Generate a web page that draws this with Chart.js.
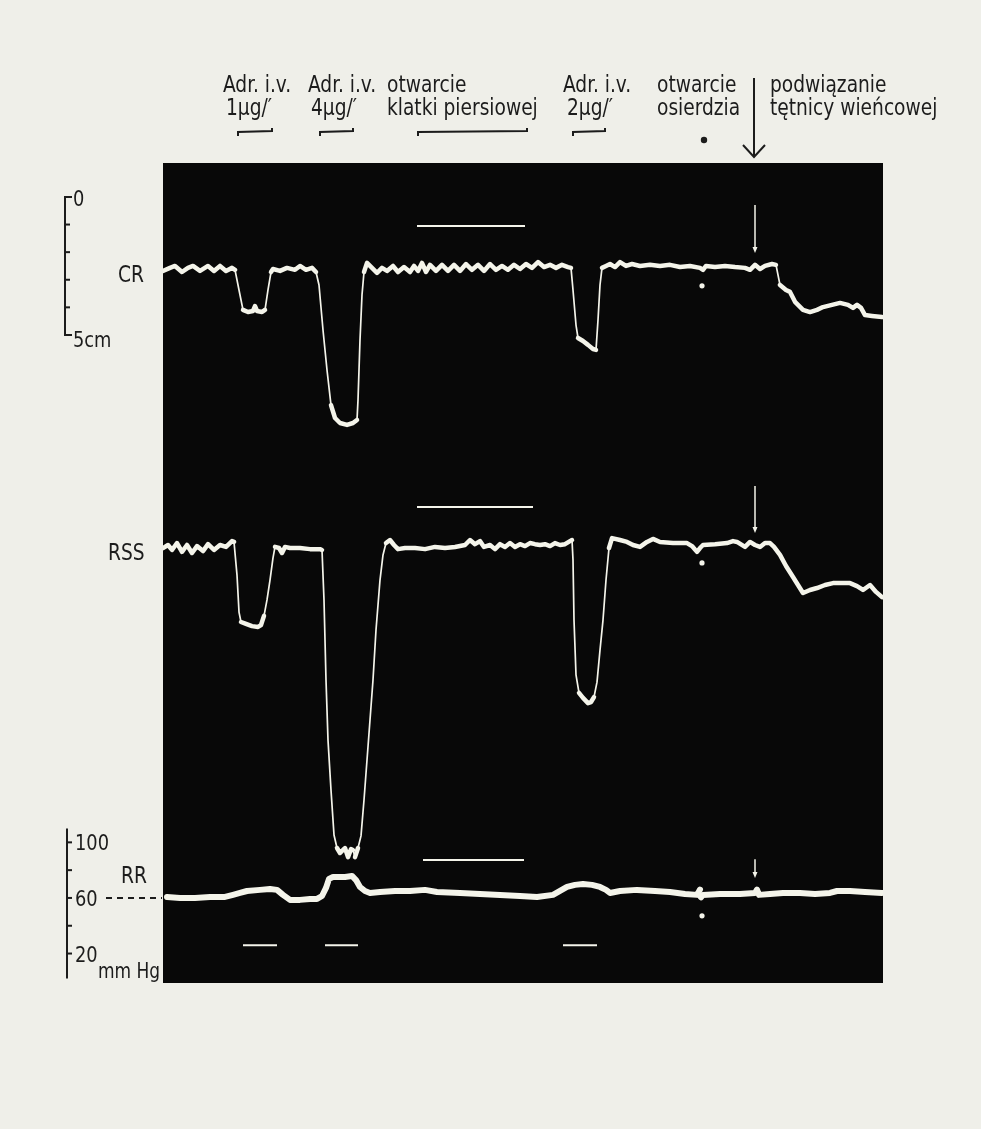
<!DOCTYPE html>
<html lang="pl">
<head>
<meta charset="UTF-8">
<title>CR, RSS, RR – adrenalina i podwiązanie tętnicy wieńcowej</title>
<script src="https://cdn.jsdelivr.net/npm/chart.js"></script>
<style>
  html, body { margin: 0; padding: 0; background: #efefe9; }
  #wrap { position: relative; width: 981px; height: 1129px; }
</style>
</head>
<body>
<div id="wrap"><canvas id="zapis"></canvas></div>
<script>
// czas zapisu w sekundach (0 = lewy brzeg zapisu)
// CR - wychylenie w cm (skala 0..5 cm po lewej)
const crTime = [0, 3.5, 6, 9.5, 12.5, 15, 18.5, 22.5, 25.5, 28.5, 31.5, 34.5, 36,
  38, 40, 42.5, 45, 46, 47, 49.5, 51, 52.5, 54, 55, 58.5, 62, 66, 68.5, 71.5, 74.5, 76.5,
  78, 80, 82, 84, 86, 88.5, 92, 95, 97, 97.5, 98.5, 99.5, 100.5, 102,
  104.5, 107, 109.5, 112, 115, 117.5, 120.5, 123.5, 125.5, 127.5,
  129.5, 131.5, 133.5, 136.5, 139.5, 142.5, 145.5, 148.5, 151.5, 154.5,
  157.5, 160.5, 163.5, 166.5, 169.5, 172.5, 175.5, 178.5, 181.5, 184.5,
  187.5, 190.5, 193.5, 196.5, 199.5, 202.5, 204,
  205, 206.5, 207.5, 210, 212.5, 215, 216.5, 217.5, 218.5, 219.5,
  221.5, 223.5, 226, 228.5, 231.5, 234.5, 238.5, 243.5, 248.5, 253.5,
  258.5, 263.5, 268.5, 270, 271.5, 276, 281, 286, 291, 293.5,
  296, 298.5, 301, 304.5, 306.5, 308.5, 311.5, 313.5, 316, 320,
  323.5, 327, 330, 334.5, 338.5, 342.5, 345, 347, 349, 351,
  354.5, 359.5];
const crValue = [2.68, 2.57, 2.50, 2.72, 2.57, 2.50, 2.68, 2.50, 2.68, 2.50, 2.68, 2.57, 2.64,
  3.37, 4.09, 4.17, 4.13, 3.95, 4.13, 4.17, 4.09, 3.37, 2.72, 2.61, 2.68, 2.57, 2.64, 2.50, 2.64, 2.57, 2.72,
  3.19, 4.82, 6.27, 7.54, 8.01, 8.19, 8.26, 8.19, 8.08, 7.36, 5.18, 3.55, 2.72, 2.39,
  2.57, 2.75, 2.57, 2.68, 2.50, 2.72, 2.54, 2.72, 2.50, 2.68,
  2.39, 2.72, 2.46, 2.68, 2.46, 2.68, 2.46, 2.68, 2.43, 2.64,
  2.46, 2.68, 2.43, 2.64, 2.50, 2.64, 2.46, 2.61, 2.43, 2.57,
  2.36, 2.54, 2.46, 2.57, 2.46, 2.54, 2.57,
  3.37, 4.64, 5.11, 5.22, 5.36, 5.51, 5.54, 4.46, 3.19, 2.57,
  2.50, 2.43, 2.54, 2.36, 2.50, 2.43, 2.50, 2.46, 2.50, 2.46,
  2.54, 2.50, 2.57, 2.64, 2.50, 2.54, 2.50, 2.54, 2.57, 2.64,
  2.46, 2.61, 2.50, 2.43, 2.46, 3.19, 3.37, 3.44, 3.80, 4.09,
  4.17, 4.09, 3.99, 3.91, 3.84, 3.91, 4.02, 3.91, 4.02, 4.28,
  4.31, 4.35];

// RSS - wychylenie w cm od linii podstawowej (w dół dodatnie)
const rssTime = [0, 2.5, 4.5, 7, 9.5, 12, 14.5, 17, 20, 22.5, 25.5, 28.5, 31.5, 34.5, 35.5,
  37, 38, 39, 41.5, 44.5, 47.5, 49, 50.5, 52, 53.5, 55, 56, 58, 59.5, 61, 63.5, 68.5, 73.5, 78.5, 79.5,
  80.5, 81.5, 82.5, 84, 85.5, 87, 88.5, 90, 91, 92.5,
  94, 95, 96, 97.5, 99, 100.5, 102, 103.5, 105, 106.5,
  108.5, 110, 111.5, 113.5, 115.5, 117.5, 121, 126, 131, 136,
  141, 146, 151, 153.5, 156, 158.5, 160.5, 163.5, 166, 168.5,
  171, 173.5, 176, 178.5, 181, 183.5, 186, 188.5, 191, 193.5,
  196, 198.5, 201, 203.5, 204.5,
  205, 205.5, 206.5, 208, 210, 212.5, 214, 215.5, 217, 218.5,
  220, 221.5, 223, 224.5, 228.5, 232, 235, 238.5, 242, 245,
  248.5, 255, 262, 264.5, 267, 268.5, 270, 276, 282, 285,
  287, 291, 293.5, 296, 298.5, 301, 303.5, 305.5, 308.5, 311.5,
  315, 317.5, 320, 323.5, 327, 331, 335, 339, 343.5, 347,
  350, 353.5, 356.5, 359.5];
const rssValue = [0, -0.11, 0.07, -0.18, 0.14, -0.11, 0.18, -0.07, 0.11, -0.14, 0.07, -0.11, -0.04, -0.25, -0.22,
  0.98, 2.32, 2.68, 2.75, 2.83, 2.86, 2.79, 2.46, 1.88, 1.16, 0.36, -0.04, 0, 0.18, -0.04, 0, 0, 0.04, 0.04, 0.07,
  1.88, 4.78, 6.96, 8.77, 10.40, 10.87, 11.05, 10.94, 10.87, 11.20,
  10.91, 10.94, 11.20, 10.87, 10.43, 9.13, 7.68, 6.23, 4.78, 2.97,
  1.16, 0.25, -0.18, -0.29, -0.11, 0.04, 0, 0, 0.04, -0.04,
  0, -0.04, -0.11, -0.29, -0.14, -0.25, -0.04, -0.11, 0.04, -0.14,
  -0.04, -0.18, -0.04, -0.14, -0.07, -0.18, -0.14, -0.11, -0.14, -0.07,
  -0.18, -0.11, -0.14, -0.25, -0.29,
  0.43, 2.61, 4.60, 5.25, 5.43, 5.62, 5.58, 5.40, 4.86, 3.70,
  2.61, 1.16, 0, -0.36, -0.29, -0.22, -0.11, -0.04, -0.22, -0.33,
  -0.22, -0.18, -0.18, -0.07, 0.14, 0, -0.11, -0.14, -0.18, -0.25,
  -0.22, -0.04, -0.22, -0.11, -0.04, -0.18, -0.18, -0.04, 0.25, 0.65,
  1.05, 1.34, 1.63, 1.52, 1.45, 1.34, 1.27, 1.27, 1.27, 1.38,
  1.52, 1.34, 1.59, 1.78];

// RR - ciśnienie tętnicze w mm Hg
const rrTime = [2, 8.5, 16, 23.5, 31, 35, 38.5, 42, 48.5, 53.5,
  57, 60, 63.5, 68.5, 73.5, 77, 79.5, 81.5, 83, 85,
  91, 94.5, 96.5, 98.5, 101, 103.5, 108.5, 116, 123.5, 131,
  137, 148.5, 158.5, 168.5, 178.5, 187, 195, 198.5, 202, 206,
  210, 214.5, 218.5, 221.5, 223.5, 226, 228.5, 237, 246, 253.5,
  261, 267, 268.5, 269, 270, 278.5, 288.5, 296, 297, 298,
  303.5, 310, 318.5, 326, 333.5, 337, 343.5, 351, 359.5];
const rrValue = [60.7, 60, 60, 60.7, 60.7, 62.2, 63.6, 65.0, 65.8, 66.5,
  65.8, 62.2, 58.6, 58.6, 59.3, 59.3, 61.4, 67.2, 73.7, 75.1,
  75.1, 75.8, 72.9, 67.9, 65.0, 63.6, 64.3, 65.0, 65.0, 65.8,
  64.3, 63.6, 62.9, 62.2, 61.4, 60.7, 62.2, 65.0, 67.9, 69.4,
  70.1, 69.4, 67.9, 65.8, 63.6, 64.3, 65.0, 65.8, 65.0, 64.3,
  62.9, 62.2, 66.0, 60.5, 62.2, 62.9, 62.9, 63.6, 66.0, 62.2,
  62.9, 63.6, 63.6, 62.9, 63.6, 65.0, 65.0, 64.3, 63.6];

// znaczniki zdarzeń
const doseStart = [37.5, 78.5, 205];          // Adr. i.v. 1, 4, 2 µg/' (klamry u góry)
const doseEnd = [54.5, 95, 221];
const rrDoseStart = [40, 81, 200];            // te same wlewy zaznaczone pod RR
const rrDoseEnd = [57, 97.5, 217];
const rrDoseLevel = 26;                       // mm Hg
const chestStart = 127.5, chestEnd = 182;     // otwarcie klatki piersiowej
const chestCR = [127, 181], chestCRLevel = 1.05;
const chestRSS = [127, 185], chestRSSLevel = -1.49;
const chestRR = [130, 180.5], chestRRLevel = 87.3;
const pericardTime = 269.5;                   // otwarcie osierdzia
const pericardDots = { yCR: 3.22, yRSS: 0.54, yRR: 47.1 };
const ligationTime = 296;                     // podwiązanie tętnicy wieńcowej
const ligationArrows = [['yCR', 0.29, 2.03], ['yRSS', -2.25, -0.54], ['yRR', 87.8, 74.4]];

const crTicks = [0, 1, 2, 3, 4, 5];
const rrTicks = [20, 40, 60, 80, 100];

const PAPER = '#efefe9';
const PANEL = '#080808';
const TRACE = '#f4f4ea';
const INK = '#1c1c1c';
const FONT = '"DejaVu Sans Condensed", "DejaVu Sans", sans-serif';
const SQUEEZE = 0.9;   // krój DIN z oryginału jest węższy

function steep(c) {
  const dx = Math.abs(c.p1.x - c.p0.x), dy = Math.abs(c.p1.y - c.p0.y);
  return dy > 3.5 * dx;
}

function trace(label, t, v, axis, thick) {
  return {
    label, yAxisID: axis,
    data: t.map((x, i) => ({ x, y: v[i] })),
    borderColor: TRACE, borderWidth: thick,
    borderCapStyle: 'round', borderJoinStyle: 'round',
    pointRadius: 0, tension: 0,
    segment: { borderWidth: c => steep(c) ? 1.7 : thick }
  };
}

function bar(label, from, to, level, axis) {
  return {
    label, yAxisID: axis,
    data: [{ x: from, y: level }, { x: to, y: level }],
    borderColor: TRACE, borderWidth: 2, pointRadius: 0
  };
}

const rrDoseData = [];
rrDoseStart.forEach((s, i) => {
  rrDoseData.push({ x: s, y: rrDoseLevel }, { x: rrDoseEnd[i], y: rrDoseLevel }, { x: rrDoseEnd[i] + 1, y: null });
});

const dots = Object.keys(pericardDots).map(axis => ({
  label: 'osierdzie ' + axis, yAxisID: axis, type: 'scatter',
  data: [{ x: pericardTime, y: pericardDots[axis] }],
  pointRadius: 2.6, pointBackgroundColor: TRACE, pointBorderWidth: 0
}));

function label(ctx, s, x, y, size) {
  ctx.save();
  ctx.font = size + 'px ' + FONT;
  ctx.translate(x, y);
  ctx.scale(SQUEEZE, 1);
  ctx.fillText(s, 0, 0);
  ctx.restore();
}

const drawing = {
  id: 'drawing',
  beforeDraw(chart) {
    const { ctx, chartArea: a } = chart;
    ctx.save();
    ctx.fillStyle = PAPER;
    ctx.fillRect(0, 0, chart.width, chart.height);
    ctx.fillStyle = PANEL;
    ctx.fillRect(a.left, a.top, a.right - a.left, a.bottom - a.top);
    ctx.restore();
  },
  afterDatasetsDraw(chart) {
    const { ctx, scales } = chart;
    const x = scales.x, cr = scales.yCR, rr = scales.yRR;
    ctx.save();

    // strzałki podwiązania w zapisie
    ctx.strokeStyle = TRACE; ctx.fillStyle = TRACE; ctx.lineWidth = 1.5;
    ligationArrows.forEach(([axis, from, to]) => {
      const px = x.getPixelForValue(ligationTime);
      const y0 = scales[axis].getPixelForValue(from), y1 = scales[axis].getPixelForValue(to);
      ctx.beginPath(); ctx.moveTo(px, y0); ctx.lineTo(px, y1 - 4); ctx.stroke();
      ctx.beginPath(); ctx.moveTo(px - 2.5, y1 - 6); ctx.lineTo(px + 2.5, y1 - 6); ctx.lineTo(px, y1); ctx.closePath(); ctx.fill();
    });

    ctx.strokeStyle = INK; ctx.fillStyle = INK; ctx.lineWidth = 2;
    ctx.lineCap = 'butt';

    // klamry wlewów u góry
    const bracket = (s, e) => {
      const xs = x.getPixelForValue(s), xe = x.getPixelForValue(e);
      ctx.beginPath();
      ctx.moveTo(xs, 136); ctx.lineTo(xs, 132); ctx.lineTo(xe, 131); ctx.lineTo(xe, 128);
      ctx.stroke();
    };
    doseStart.forEach((s, i) => bracket(s, doseEnd[i]));
    bracket(chestStart, chestEnd);

    // kropka i strzałka nad zapisem
    ctx.beginPath(); ctx.arc(x.getPixelForValue(pericardTime + 1), 140, 3.2, 0, Math.PI * 2); ctx.fill();
    const ax = x.getPixelForValue(ligationTime - 0.5);
    ctx.beginPath(); ctx.moveTo(ax, 78); ctx.lineTo(ax, 157); ctx.stroke();
    ctx.beginPath(); ctx.moveTo(ax - 11, 145); ctx.lineTo(ax, 157); ctx.lineTo(ax + 11, 145); ctx.stroke();

    // skala CR (cm)
    const cx = 65, c0 = cr.getPixelForValue(0), c5 = cr.getPixelForValue(5);
    ctx.beginPath(); ctx.moveTo(cx + 7, c0); ctx.lineTo(cx, c0); ctx.lineTo(cx, c5); ctx.lineTo(cx + 7, c5); ctx.stroke();
    crTicks.slice(1, -1).forEach(v => {
      const y = cr.getPixelForValue(v);
      ctx.beginPath(); ctx.moveTo(cx, y); ctx.lineTo(cx + 5, y); ctx.stroke();
    });

    // skala RR (mm Hg)
    const rx = 67;
    ctx.beginPath(); ctx.moveTo(rx, rr.getPixelForValue(110)); ctx.lineTo(rx, rr.getPixelForValue(2)); ctx.stroke();
    rrTicks.forEach(v => {
      const y = rr.getPixelForValue(v);
      ctx.beginPath(); ctx.moveTo(rx, y); ctx.lineTo(rx + 5, y); ctx.stroke();
    });
    const y60 = rr.getPixelForValue(60);
    ctx.setLineDash([6, 5]);
    ctx.beginPath(); ctx.moveTo(106, y60); ctx.lineTo(162, y60); ctx.stroke();
    ctx.setLineDash([]);

    // napisy: tekst, x, linia bazowa
    ctx.textBaseline = 'alphabetic';
    const texts = [
      ['Adr. i.v.', 223, 92], ['1µg/′', 226, 115],
      ['Adr. i.v.', 308, 92], ['4µg/′', 311, 115],
      ['otwarcie', 387, 92], ['klatki piersiowej', 387, 115],
      ['Adr. i.v.', 563, 92], ['2µg/′', 567, 115],
      ['otwarcie', 657, 92], ['osierdzia', 657, 115],
      ['podwiązanie', 770, 92], ['tętnicy wieńcowej', 770, 115],
      ['CR', 118, 282], ['RSS', 108, 560], ['RR', 121, 883]
    ];
    texts.forEach(([s, px, py]) => label(ctx, s, px, py, 23));

    label(ctx, '0', 73, c0 + 9, 22);
    label(ctx, '5cm', 73, c5 + 12, 22);
    label(ctx, '100', 75, rr.getPixelForValue(100) + 8, 22);
    label(ctx, '60', 75, y60 + 8, 22);
    label(ctx, '20', 75, rr.getPixelForValue(20) + 8, 22);
    label(ctx, 'mm Hg', 98, 978, 21);

    ctx.restore();
  }
};

new Chart('zapis', {
  type: 'line',
  data: {
    datasets: [
      trace('CR', crTime, crValue, 'yCR', 4.5),
      trace('RSS', rssTime, rssValue, 'yRSS', 4.5),
      trace('RR', rrTime, rrValue, 'yRR', 6),
      bar('otwarcie klatki CR', chestCR[0], chestCR[1], chestCRLevel, 'yCR'),
      bar('otwarcie klatki RSS', chestRSS[0], chestRSS[1], chestRSSLevel, 'yRSS'),
      bar('otwarcie klatki RR', chestRR[0], chestRR[1], chestRRLevel, 'yRR'),
      { label: 'wlewy Adr.', yAxisID: 'yRR', data: rrDoseData, borderColor: TRACE, borderWidth: 2, pointRadius: 0, spanGaps: false },
      ...dots
    ]
  },
  options: {
    responsive: true,
    maintainAspectRatio: false,
    animation: false,
    events: [],
    layout: { padding: { left: 163, top: 163, right: 98, bottom: 146 } },
    plugins: { legend: { display: false }, tooltip: { enabled: false } },
    scales: {
      x: { type: 'linear', min: 0, max: 360, display: false },
      yCR: { type: 'linear', reverse: true, min: -1.23, max: 28.48, display: false },
      yRSS: { type: 'linear', reverse: true, min: -13.95, max: 15.76, display: false },
      yRR: { type: 'linear', min: -1.2, max: 588.8, display: false }
    }
  },
  plugins: [drawing]
});
</script>
</body>
</html>
